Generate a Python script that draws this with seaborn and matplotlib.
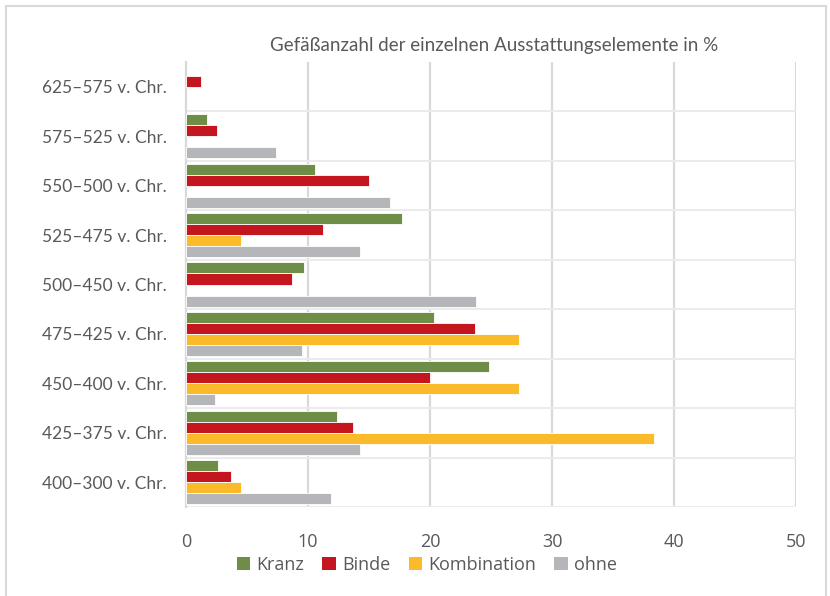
import numpy as np
import pandas as pd
import matplotlib
matplotlib.use("Agg")
import matplotlib.pyplot as plt
import seaborn as sns
from matplotlib.patches import Rectangle, Patch

categories = ["625–575 v. Chr.", "575–525 v. Chr.", "550–500 v. Chr.", "525–475 v. Chr.",
              "500–450 v. Chr.", "475–425 v. Chr.", "450–400 v. Chr.", "425–375 v. Chr.",
              "400–300 v. Chr."]
series = ["Kranz", "Binde", "Kombination", "ohne"]
kranz = [np.nan, 1.7, 10.6, 17.7, 9.7, 20.3, 24.8, 12.4, 2.6]
binde = [1.2, 2.5, 15.0, 11.2, 8.7, 23.7, 20.0, 13.7, 3.7]
kombination = [np.nan, np.nan, np.nan, 4.5, np.nan, 27.3, 27.3, 38.4, 4.5]
ohne = [np.nan, 7.4, 16.7, 14.3, 23.8, 9.5, 2.4, 14.3, 11.9]
xticks = [0, 10, 20, 30, 40, 50]
title = "Gefäßanzahl der einzelnen Ausstattungselemente in %"

colors = ["#6E8E47", "#C3161F", "#FBBA2A", "#B5B6BA"]

rows = []
for s, vals in zip(series, [kranz, binde, kombination, ohne]):
    for c, v in zip(categories, vals):
        rows.append({"Periode": c, "Element": s, "Wert": v})
df = pd.DataFrame(rows).dropna()

sns.set_theme(style="white")
plt.rcParams["font.family"] = ["Lato", "DejaVu Sans"]
text_color = "#595959"

fig = plt.figure(figsize=(8.3, 5.96), dpi=100)
ax = fig.add_axes([186 / 830, 1 - 507 / 596, 610 / 830, 445 / 596])

sns.barplot(data=df, y="Periode", x="Wert", hue="Element", order=categories,
            hue_order=series, palette=colors, orient="h", width=0.89, saturation=1,
            edgecolor="white", linewidth=0.6, ax=ax, legend=False, zorder=3)

ax.set_xlim(0, 50)
ax.set_ylim(len(categories) - 0.5, -0.5)
ax.set_xticks(xticks)
ax.set_xticklabels([str(t) for t in xticks], fontsize=13, color=text_color,
                   family=["Open Sans", "DejaVu Sans"])
ax.tick_params(axis="x", length=0, pad=19)
ax.tick_params(axis="y", length=0, pad=14)
for lab in ax.get_yticklabels():
    lab.set_fontsize(12.5)
    lab.set_color(text_color)
ax.set_xlabel("")
ax.set_ylabel("")

# vertical gridlines
for t in xticks[1:]:
    ax.axvline(t, color="#D9D9D9", linewidth=1.6, zorder=1)
# category separators
for i in range(len(categories)):
    ax.axhline(i + 0.5, color="#EBEBEB", linewidth=1.4, zorder=1)

for side in ["top", "right", "bottom"]:
    ax.spines[side].set_visible(False)
ax.spines["left"].set_color("#D9D9D9")
ax.spines["left"].set_linewidth(1.6)

fig.text(494 / 830, 1 - 45 / 596, title, ha="center", va="center",
         fontsize=13.5, color=text_color)

handles = [Patch(facecolor=c, edgecolor="none", label=s) for s, c in zip(series, colors)]
leg = fig.legend(handles=handles, loc="center", bbox_to_anchor=(427 / 830, 1 - 565 / 596),
                 ncol=4, frameon=False, fontsize=13, handlelength=0.75, handleheight=0.75,
                 handletextpad=0.35, columnspacing=1.0, labelcolor=text_color)
for t in leg.get_texts():
    t.set_family(["Open Sans", "DejaVu Sans"])

# outer chart frame
fig.patches.append(Rectangle((6 / 830, -0.05), 820 / 830, 1.05 - 6 / 596,
                             transform=fig.transFigure, fill=False,
                             edgecolor="#D9D9D9", linewidth=1.5))

fig.savefig("out.png", dpi=100)
